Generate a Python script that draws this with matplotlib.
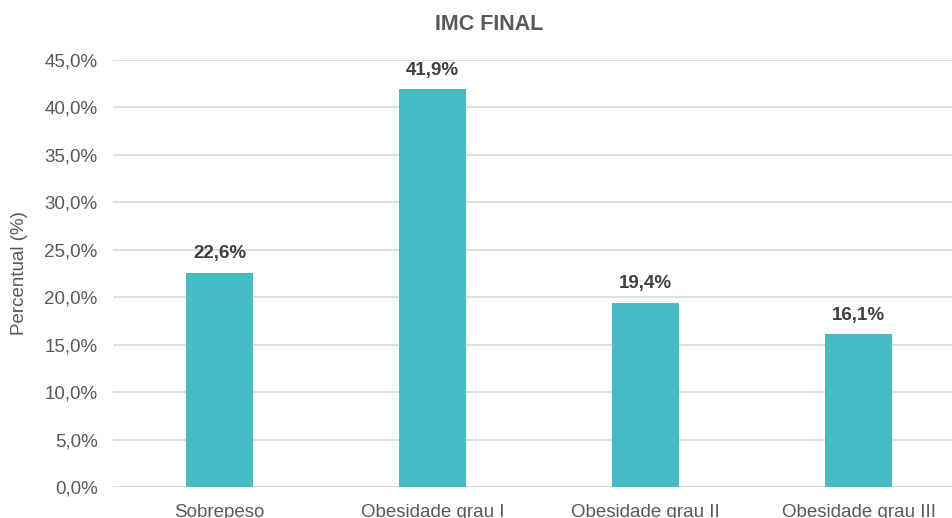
import matplotlib.pyplot as plt
from matplotlib.ticker import FuncFormatter

plt.rcParams['font.family'] = ['Liberation Sans', 'DejaVu Sans']

categorias = ['Sobrepeso', 'Obesidade grau I', 'Obesidade grau II', 'Obesidade grau III']
percentuais = [22.6, 41.9, 19.4, 16.1]

fig = plt.figure(figsize=(9.52, 5.18), dpi=100)
ax = fig.add_axes([113 / 952, 31 / 518, 852 / 952, 427 / 518])

x = range(len(categorias))
bars = ax.bar(x, percentuais, width=0.31, color='#47BCC4', zorder=3)

for b, v in zip(bars, percentuais):
    ax.text(b.get_x() + b.get_width() / 2, v + 1.1, f'{v:.1f}%'.replace('.', ','),
            ha='center', va='bottom', fontsize=13.5, fontweight='bold', color='#404040')

ax.set_xlim(-0.5, len(categorias) - 0.5)
ax.set_ylim(0, 45)
ax.set_yticks([i * 5 for i in range(10)])
ax.yaxis.set_major_formatter(FuncFormatter(lambda v, p: f'{v:.1f}%'.replace('.', ',')))
ax.set_xticks(list(x))
ax.set_xticklabels(categorias)
ax.tick_params(axis='both', length=0, labelsize=13.5, labelcolor='#595959')
ax.tick_params(axis='x', pad=12)
ax.tick_params(axis='y', pad=11)

ax.grid(axis='y', color='#D9D9D9', linewidth=1.2, zorder=0)
for s in ax.spines.values():
    s.set_visible(False)

ax.set_ylabel('Percentual (%)', fontsize=13.5, color='#595959', labelpad=12)
fig.text(489 / 952, 1 - 25 / 518, 'IMC FINAL', ha='center', va='center',
         fontsize=15.5, fontweight='bold', color='#595959')

fig.savefig('out.png', dpi=100)
